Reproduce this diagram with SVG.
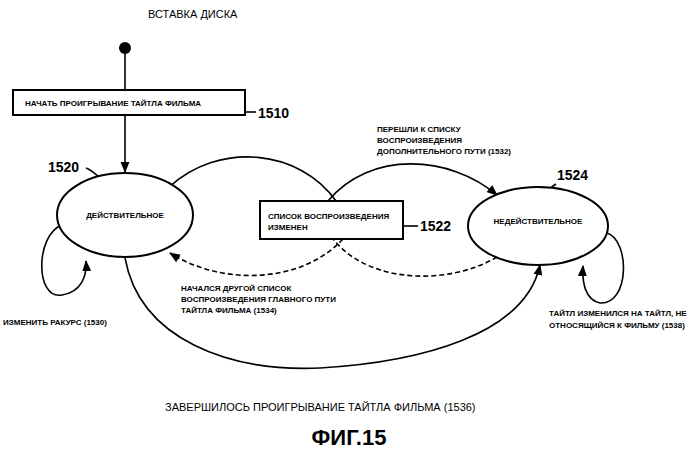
<svg xmlns="http://www.w3.org/2000/svg" width="698" height="450" viewBox="0 0 698 450">
<style>
text{font-family:"Liberation Sans",Arial,sans-serif;font-weight:bold;fill:#000}
.s{font-size:8px}.n{font-size:14px}.m{font-size:11px;font-weight:normal}
.l{fill:none;stroke:#000;stroke-width:1.6}
.d{stroke-dasharray:5,3}
.sh{fill:#fff;stroke:#000;stroke-width:2}
</style>
<defs><marker id="a" viewBox="0 0 10 10" refX="9" refY="5" markerWidth="7" markerHeight="7" orient="auto"><path d="M0,1 L10,5 L0,9z"/></marker></defs>
<rect width="698" height="450" fill="#fff"/>
<text x="148" y="18" style="font-weight:normal;font-size:11px">ВСТАВКА ДИСКА</text>
<g id="connectors">
<line class="l" x1="125" y1="52" x2="125" y2="90"/>
<line class="l" x1="125" y1="115" x2="125" y2="172" marker-end="url(#a)"/>
<path class="l" d="M168,188 C220,140 300,150 336,201"/>
<path class="l" d="M328,201 C370,150 450,155 497,195" marker-end="url(#a)"/>
<path class="l d" d="M497,257 C450,285 370,285 333,239"/>
<path class="l d" d="M343,239 C300,285 220,285 170,253" marker-end="url(#a)"/>
<path class="l" d="M125,258 C140,340 230,372 320,368 C420,362 525,335 540,265" marker-end="url(#a)"/>
<path class="l" d="M62,225 C35,235 35,300 62,295 C82,292 87,275 86,261" marker-end="url(#a)"/>
<path class="l" d="M607,233 C630,240 630,305 600,303 C585,300 582,282 583,266" marker-end="url(#a)"/>
<path class="l" d="M86,168 C92,170 96,175 100,178"/>
<path class="l" d="M545,192 L556,184"/>
<path class="l" d="M403,226 L418,226"/>
<path class="l" d="M245,112 L256,112"/>
</g>
<circle cx="125" cy="48" r="6"/>
<g id="n1510"><rect class="sh" x="13" y="90" width="232" height="25"/><text class="s" x="25" y="106">НАЧАТЬ ПРОИГРЫВАНИЕ ТАЙТЛА ФИЛЬМА</text><text class="n" x="258" y="118">1510</text></g>
<g id="n1520"><ellipse class="sh" cx="125" cy="215" rx="68" ry="42"/><text class="s" x="125" y="218" text-anchor="middle">ДЕЙСТВИТЕЛЬНОЕ</text><text class="n" x="48" y="172">1520</text></g>
<g id="n1522"><rect class="sh" x="260" y="201" width="143" height="38"/><text class="s" x="268" y="219">СПИСОК ВОСПРОИЗВЕДЕНИЯ</text><text class="s" x="268" y="230">ИЗМЕНЕН</text><text class="n" x="420" y="231">1522</text></g>
<g id="n1524"><ellipse class="sh" cx="538" cy="226" rx="70" ry="39"/><text class="s" x="538" y="224" text-anchor="middle">НЕДЕЙСТВИТЕЛЬНОЕ</text><text class="n" x="557" y="180">1524</text></g>
<g id="labels">
<text class="s" x="377" y="132">ПЕРЕШЛИ К СПИСКУ</text>
<text class="s" x="377" y="143">ВОСПРОИЗВЕДЕНИЯ</text>
<text class="s" x="377" y="154">ДОПОЛНИТЕЛЬНОГО ПУТИ (1532)</text>
<text class="s" x="181" y="291">НАЧАЛСЯ ДРУГОЙ СПИСОК</text>
<text class="s" x="181" y="302">ВОСПРОИЗВЕДЕНИЯ ГЛАВНОГО ПУТИ</text>
<text class="s" x="181" y="313">ТАЙТЛА ФИЛЬМА (1534)</text>
<text class="s" x="3" y="325">ИЗМЕНИТЬ РАКУРС (1530)</text>
<text class="s" x="549" y="316">ТАЙТЛ ИЗМЕНИЛСЯ НА ТАЙТЛ, НЕ</text>
<text class="s" x="549" y="328">ОТНОСЯЩИЙСЯ К ФИЛЬМУ (1538)</text>
<text class="m" x="165" y="411">ЗАВЕРШИЛОСЬ ПРОИГРЫВАНИЕ ТАЙТЛА ФИЛЬМА (1536)</text>
<text x="349" y="445" text-anchor="middle" style="font-size:22px">ФИГ.15</text>
</g>
</svg>
